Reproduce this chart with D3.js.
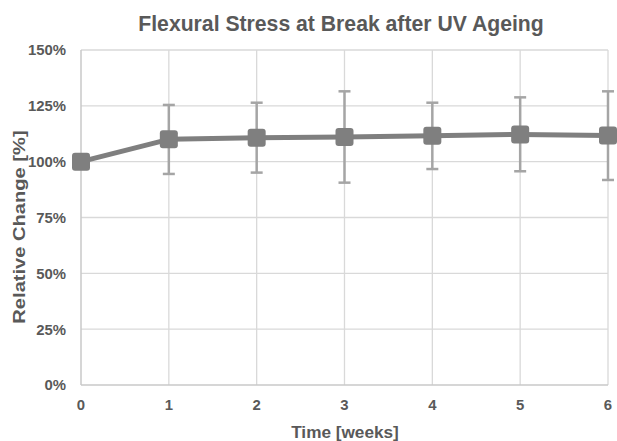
<!DOCTYPE html>
<html><head><meta charset="utf-8">
<script src="https://cdn.jsdelivr.net/npm/d3@7"></script>
<style>body{margin:0;background:#fff}svg{display:block}text{font-family:Arial,"Liberation Sans",sans-serif;font-weight:bold;fill:#595959}</style>
</head><body><svg id="c" width="617" height="441"></svg>
<script>
const weeks = [0, 1, 2, 3, 4, 5, 6];
const values = [100, 110.0, 110.7, 111.0, 111.6, 112.2, 111.7];
const errUpper = [null, 125.4, 126.4, 131.5, 126.4, 128.8, 131.5];
const errLower = [null, 94.5, 95.1, 90.6, 96.7, 95.7, 91.8];
const yTicks = [0, 25, 50, 75, 100, 125, 150];
const title = "Flexural Stress at Break after UV Ageing";
const xTitle = "Time [weeks]";
const yTitle = "Relative Change [%]";

const svg = d3.select("#c");
const x = d3.scaleLinear().domain([0, 6]).range([81, 608]);
const y = d3.scaleLinear().domain([0, 150]).range([385, 50]);

// gridlines
svg.append("g").selectAll("line").data(yTicks.filter(d => d > 0)).join("line")
  .attr("x1", x(0)).attr("x2", x(6)).attr("y1", d => y(d)).attr("y2", d => y(d))
  .attr("stroke", "#d9d9d9").attr("stroke-width", 1.3);
svg.append("g").selectAll("line").data(weeks.filter(d => d > 0)).join("line")
  .attr("x1", d => x(d)).attr("x2", d => x(d)).attr("y1", y(0)).attr("y2", y(150))
  .attr("stroke", "#d9d9d9").attr("stroke-width", 1.3);
// axes lines
svg.append("line").attr("x1", x(0)).attr("x2", x(6)).attr("y1", y(0)).attr("y2", y(0))
  .attr("stroke", "#c8c8c8").attr("stroke-width", 1.5);
svg.append("line").attr("x1", x(0)).attr("x2", x(0)).attr("y1", y(0)).attr("y2", y(150))
  .attr("stroke", "#c8c8c8").attr("stroke-width", 1.5);

// tick labels
svg.append("g").selectAll("text").data(yTicks).join("text")
  .attr("x", 66).attr("y", d => y(d)).attr("dy", "0.36em").attr("text-anchor", "end")
  .attr("font-size", 14.9).text(d => d + "%");
svg.append("g").selectAll("text").data(weeks).join("text")
  .attr("x", d => x(d)).attr("y", 410).attr("text-anchor", "middle")
  .attr("font-size", 14.9).text(d => d);

// titles
svg.append("text").attr("x", 341).attr("y", 31).attr("text-anchor", "middle")
  .attr("font-size", 21.2).text(title);
svg.append("text").attr("x", 345).attr("y", 437.5).attr("text-anchor", "middle")
  .attr("font-size", 17.2).text(xTitle);
svg.append("text").attr("transform", "translate(25,227) scale(1,1.17) rotate(-90)").attr("text-anchor", "middle")
  .attr("font-size", 17.2).text(yTitle);

// error bars
const eb = weeks.map((w, i) => ({w, hi: errUpper[i], lo: errLower[i]})).filter(d => d.hi != null);
const g = svg.append("g").attr("stroke", "#a5a5a5").attr("stroke-width", 2.5);
g.selectAll(".v").data(eb).join("line")
  .attr("x1", d => x(d.w)).attr("x2", d => x(d.w)).attr("y1", d => y(d.hi)).attr("y2", d => y(d.lo));
g.selectAll(".t").data(eb).join("line")
  .attr("x1", d => x(d.w) - 6).attr("x2", d => x(d.w) + 6).attr("y1", d => y(d.hi)).attr("y2", d => y(d.hi));
g.selectAll(".b").data(eb).join("line")
  .attr("x1", d => x(d.w) - 6).attr("x2", d => x(d.w) + 6).attr("y1", d => y(d.lo)).attr("y2", d => y(d.lo));

// line
const pts = weeks.map((w, i) => [w, values[i]]);
svg.append("path").datum(pts)
  .attr("d", d3.line().x(d => x(d[0])).y(d => y(d[1])))
  .attr("fill", "none").attr("stroke", "#7f7f7f").attr("stroke-width", 5).attr("stroke-linejoin", "round");

// markers
svg.append("g").selectAll("rect").data(pts).join("rect")
  .attr("x", d => x(d[0]) - 9).attr("y", d => y(d[1]) - 9)
  .attr("width", 18).attr("height", 18).attr("rx", 3)
  .attr("fill", "#7f7f7f");
</script></body></html>
